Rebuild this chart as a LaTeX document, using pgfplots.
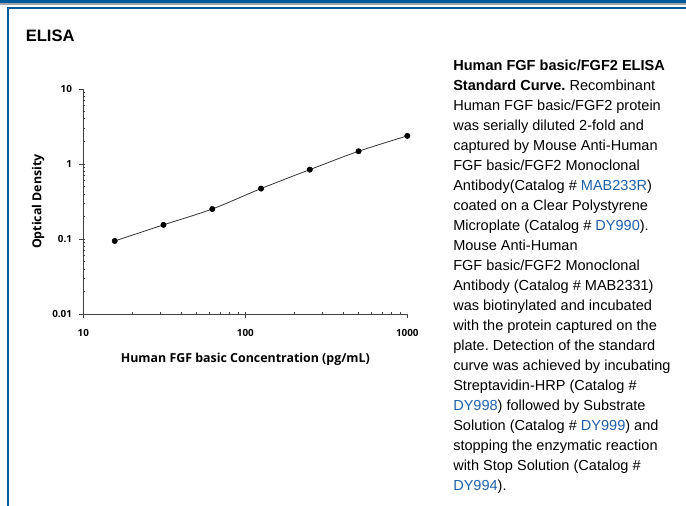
\documentclass[border=0pt]{standalone}
\usepackage{pgfplots}
\pgfplotsset{compat=1.18}
\usepackage{fontspec}
\setmainfont{Liberation Sans}
\newfontfamily\osf{Open Sans}
\definecolor{rdblue}{RGB}{0,90,156}
\definecolor{rdgray}{RGB}{160,165,170}
\definecolor{linkblue}{RGB}{30,96,168}
\newcommand{\lnk}[1]{\textcolor{linkblue}{#1}}
\frenchspacing
\begin{document}
\begin{tikzpicture}
\path (0,0) rectangle (514.5pt,-379.5pt);
\fill[rdblue] (0,0) rectangle (514.5pt,-2.625pt);
\fill[rdgray] (0,-2.625pt) rectangle (514.5pt,-4.125pt);
\fill[rdblue] (4.875pt,-5.25pt) rectangle (514.5pt,-6.9pt);
\fill[rdblue] (4.875pt,-5.25pt) rectangle (6.525pt,-379.5pt);
\node[anchor=base west,inner sep=0pt,font=\bfseries\fontsize{12.4}{14}\selectfont] at (19.2pt,-31.5pt) {ELISA};
\node[anchor=base west,inner sep=0pt,align=left,font=\fontsize{10.9}{15}\selectfont] at (339.75pt,-368pt) {%
\textbf{Human FGF basic/FGF2 ELISA}\\
\textbf{Standard Curve.} Recombinant\\
Human FGF basic/FGF2 protein\\
was serially diluted 2-fold and\\
captured by Mouse Anti-Human\\
FGF basic/FGF2 Monoclonal\\
Antibody(Catalog \# \lnk{MAB233R})\\
coated on a Clear Polystyrene\\
Microplate (Catalog \# \lnk{DY990}).\\
Mouse Anti-Human\\
FGF basic/FGF2 Monoclonal\\
Antibody (Catalog \# MAB2331)\\
was biotinylated and incubated\\
with the protein captured on the\\
plate. Detection of the standard\\
curve was achieved by incubating\\
Streptavidin-HRP (Catalog \#\\
\lnk{DY998}) followed by Substrate\\
Solution (Catalog \# \lnk{DY999}) and\\
stopping the enzymatic reaction\\
with Stop Solution (Catalog \#\\
\lnk{DY994}).};
\begin{axis}[
  at={(62.5pt,-235.7pt)}, anchor=south west,
  scale only axis, width=243pt, height=169pt,
  xmode=log, ymode=log,
  xmin=10, xmax=1000, ymin=0.01, ymax=10,
  axis lines=left, axis line style={-, draw=black!75, line width=0.6pt},
  xtick={10,100,1000}, xticklabels={10,100,1000},
  ytick={0.01,0.1,1,10}, yticklabels={0.01,0.1,1,10},
  tick align=outside, major tick length=3pt, minor tick length=1.5pt,
  tick style={draw=black!75, line width=0.5pt},
  every minor x tick/.append style={yshift=1.5pt},
  every minor y tick/.append style={xshift=1.5pt},
  ticklabel style={font=\osf\bfseries\fontsize{7.4}{8}\selectfont},
  xticklabel style={yshift=-5pt},
  yticklabel style={xshift=-2pt},
  xlabel={Human FGF basic Concentration (pg/mL)},
  ylabel={Optical Density},
  label style={font=\osf\bfseries\fontsize{9.3}{10}\selectfont},
  xlabel style={yshift=-5pt},
  ylabel style={yshift=-1pt},
  clip=false,
]
\addplot[black!80, line width=0.6pt, smooth] coordinates {
(15.625,0.0946) (31.25,0.155) (62.5,0.252) (125,0.471) (250,0.843) (500,1.48) (1000,2.37)};
\addplot[only marks, mark=*, mark size=2pt, black] coordinates {
(15.625,0.0946) (31.25,0.155) (62.5,0.252) (125,0.471) (250,0.843) (500,1.48) (1000,2.37)};
\end{axis}
\end{tikzpicture}
\end{document}
